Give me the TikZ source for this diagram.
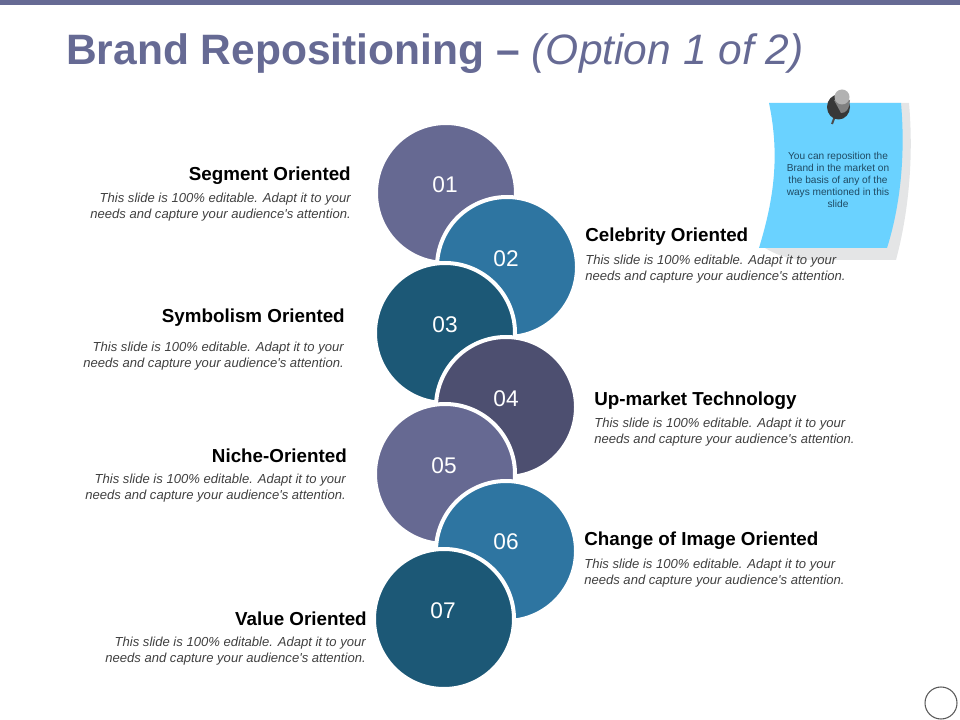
\documentclass[tikz,border=0pt]{standalone}
\usepackage{fontspec}
\setmainfont{Liberation Sans}
\definecolor{barcol}{HTML}{666A94}
\definecolor{disccolA}{HTML}{666992}
\definecolor{disccolB}{HTML}{2E75A1}
\definecolor{disccolC}{HTML}{1C5876}
\definecolor{disccolD}{HTML}{4D4F70}
\definecolor{notecol}{HTML}{6AD2FF}
\definecolor{noteshade}{HTML}{E4E5E6}
\definecolor{bodycol}{HTML}{404040}
\definecolor{notetext}{HTML}{1F4A63}
\newcommand{\slidetext}{This slide is 100\% editable. Adapt it to your\\needs and capture your audience\textquotesingle s attention.}
\tikzset{
  disc/.style={circle,draw=white,line width=3pt,minimum size=105pt,inner sep=0pt},
  numlbl/.style={text=white,font=\fontsize{17}{20}\selectfont},
  headlbl/.style={inner sep=0pt,font=\fontsize{14.1}{16}\selectfont\bfseries},
  bodylbl/.style={inner sep=0pt,text=bodycol,font=\fontsize{9.8}{12}\selectfont\itshape},
}
\begin{document}
\begin{tikzpicture}[x=0.75pt,y=0.75pt,yscale=-1,xscale=1]
        \useasboundingbox (0,0) rectangle (960,720);

        %Top bar
        \fill[barcol] (0,0) rectangle (960,5);

        % Title
        \node (title) at (66,54) [anchor=west,inner sep=0pt,text=barcol,font=\fontsize{31.9}{36}\selectfont] {\textbf{Brand Repositioning –} \textit{(Option 1 of 2)}};

        %Note shade
        \fill[noteshade] (800,103) -- (909,103) .. controls (914,160) and (908,215) .. (896,260) -- (800,260) .. controls (785,258) and (775,254) .. (765,248) -- (800,200) -- cycle;
        %Note
        \fill[notecol] (769,103) -- (901,103) .. controls (906,160) and (899,210) .. (887,248) -- (759,248) .. controls (772,205) and (781,160) .. (769,103) -- cycle;

        %Pin
        \draw[line width=1.5pt,color=black!70] (835,116) -- (832,124);
        \fill[black!78] (838.5,107) ellipse [x radius=11.5,y radius=12.5];
        \fill[black!50] (834,100) -- (841,113) .. controls (846,113) and (849,110) .. (850,100) -- cycle;
        \fill[black!30] (842,97) circle [radius=7.5];

        % Note text
        \node (notetxt) at (838,180) [align=center,inner sep=0pt,text=notetext,font=\fontsize{7.6}{9}\selectfont] {You can reposition the\\Brand in the market on\\the basis of any of the\\ways mentioned in this\\slide};

        %Discs
        \node[disc,fill=disccolA] (d01) at (446,193) {};
        \node[disc,fill=disccolB] (d02) at (507,267) {};
        \node[disc,fill=disccolC] (d03) at (445,333) {};
        \node[disc,fill=disccolD] (d04) at (506,407) {};
        \node[disc,fill=disccolA] (d05) at (445,474) {};
        \node[disc,fill=disccolB] (d06) at (506,551) {};
        \node[disc,fill=disccolC] (d07) at (444,619) {};

        % Disc numbers
        \node[numlbl] (n01) at (445,185) {01};
        \node[numlbl] (n02) at (506,259) {02};
        \node[numlbl] (n03) at (445,325) {03};
        \node[numlbl] (n04) at (506,399) {04};
        \node[numlbl] (n05) at (444,466) {05};
        \node[numlbl] (n06) at (506,542) {06};
        \node[numlbl] (n07) at (443,611) {07};

        % Left labels
        \node[headlbl,anchor=east] (h01) at (351,176) {Segment Oriented};
        \node[bodylbl,anchor=east,align=right] (b01) at (351,207) {\slidetext};
        \node[headlbl,anchor=east] (h03) at (345,318) {Symbolism Oriented};
        \node[bodylbl,anchor=east,align=right] (b03) at (344,356) {\slidetext};
        \node[headlbl,anchor=east] (h05) at (347,456) {Niche-Oriented};
        \node[bodylbl,anchor=east,align=right] (b05) at (346,488) {\slidetext};
        \node[headlbl,anchor=east] (h07) at (367,619) {Value Oriented};
        \node[bodylbl,anchor=east,align=right] (b07) at (366,651) {\slidetext};

        % Right labels
        \node[headlbl,anchor=west] (h02) at (585,237) {Celebrity Oriented};
        \node[bodylbl,anchor=west,align=left] (b02) at (585,269) {\slidetext};
        \node[headlbl,anchor=west] (h04) at (594,401) {Up-market Technology};
        \node[bodylbl,anchor=west,align=left] (b04) at (594,432) {\slidetext};
        \node[headlbl,anchor=west] (h06) at (584,541) {Change of Image Oriented};
        \node[bodylbl,anchor=west,align=left] (b06) at (584,573) {\slidetext};

        %Corner circle
        \draw[black!65,line width=0.8pt] (941,703) circle [radius=16];
\end{tikzpicture}
\end{document}
